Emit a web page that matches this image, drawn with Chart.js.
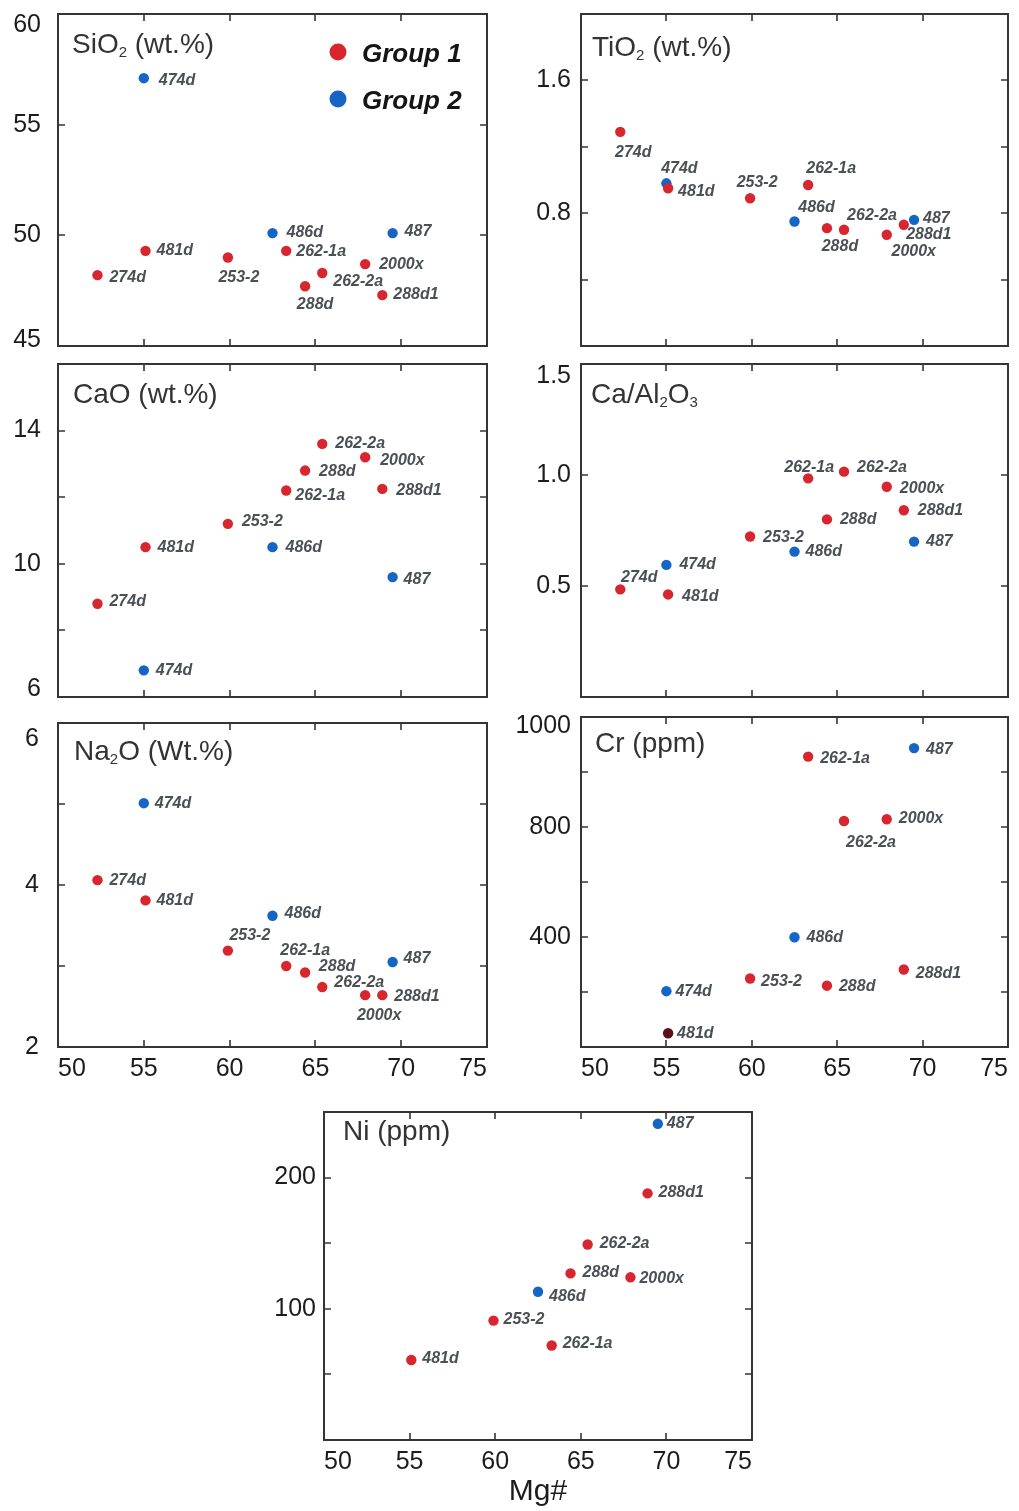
<!DOCTYPE html>
<html>
<head>
<meta charset="utf-8">
<script src="https://cdn.jsdelivr.net/npm/chart.js@4.4.1/dist/chart.umd.min.js"></script>
<style>
    html, body { margin: 0; padding: 0; background: #fff; overflow: hidden; }
    body { width: 1019px; height: 1511px; position: relative; }
    .panel { position: absolute; }
</style>
</head>
<body>
<script>
// samples and Mg# (same for every panel)
const samples = ['274d', '474d', '481d', '253-2', '486d', '262-1a', '288d', '262-2a', '2000x', '288d1', '487'];
const groups = [1, 2, 1, 1, 2, 1, 1, 1, 1, 1, 2];
const mgNumber = [52.3, 55.0, 55.1, 59.9, 62.5, 63.3, 64.4, 65.4, 67.9, 68.9, 69.5];

// oxide / element values (null = not plotted)
const sio2 = [48.2, 57.1, 49.3, 49.0, 50.1, 49.3, 47.7, 48.3, 48.7, 47.3, 50.1];
const tio2 = [1.29, 0.98, 0.95, 0.89, 0.75, 0.97, 0.71, 0.70, 0.67, 0.73, 0.76];
const cao = [8.8, 6.8, 10.5, 11.2, 10.5, 12.2, 12.8, 13.6, 13.2, 12.25, 9.6];
const caAl2o3 = [0.485, 0.595, 0.462, 0.723, 0.655, 0.985, 0.80, 1.015, 0.947, 0.841, 0.70];
const na2o = [4.06, 5.01, 3.81, 3.19, 3.62, 3.0, 2.92, 2.74, 2.64, 2.64, 3.05];
const cr = [null, 203, 50, 249, 399, 1056, 223, 822, 828, 282, 1087];
const ni = [null, null, 61, 91, 113, 72, 127, 149, 124, 188, 241];

// ticks
const mgTicks = [50, 55, 60, 65, 70, 75];
const mgTickLabels = ['50', '55', '60', '65', '70', '75'];
const sio2Ticks = [45, 50, 55, 60];
const sio2TickLabels = ['45', '50', '55', '60'];
const tio2Ticks = [0, 0.4, 0.8, 1.2, 1.6, 2.0];
const tio2TickLabels = ['', '', '0.8', '', '1.6', ''];
const caoTicks = [6, 8, 10, 12, 14, 16];
const caoTickLabels = ['6', '', '10', '', '14', ''];
const caAlTicks = [0, 0.5, 1.0, 1.5];
const caAlTickLabels = ['', '0.5', '1.0', '1.5'];
const na2oTicks = [2, 3, 4, 5, 6];
const na2oTickLabels = ['2', '', '4', '', '6'];
const crTicks = [0, 200, 400, 600, 800, 1000, 1200];
const crTickLabels = ['', '', '400', '', '800', '', '1000'];
const niTicks = [0, 50, 100, 150, 200, 250];
const niTickLabels = ['', '', '100', '', '200', ''];

// label placement next to each point: [align, dx, dy]
const sio2LabelPos = {'474d': ['l', 15, 2], '481d': ['l', 11, 0], '274d': ['l', 12, 2], '253-2': ['c', 11, 20], '486d': ['l', 14, -1], '262-1a': ['l', 10, 1], '288d': ['c', 10, 18], '262-2a': ['l', 11, 9], '2000x': ['l', 14, 0], '288d1': ['l', 11, 0], '487': ['l', 12, -2]};
const tio2LabelPos = {'274d': ['c', 13, 21], '474d': ['c', 13, -15], '481d': ['l', 10, 3], '253-2': ['c', 7, -16], '262-1a': ['c', 23, -16], '486d': ['c', 22, -14], '288d': ['c', 13, 18], '262-2a': ['c', 28, -14], '2000x': ['c', 27, 17], '288d1': ['c', 25, 10], '487': ['l', 9, -1]};
const caoLabelPos = {'262-2a': ['l', 13, 0], '2000x': ['l', 15, 3], '288d': ['l', 14, 1], '262-1a': ['l', 9, 5], '288d1': ['l', 14, 2], '253-2': ['l', 14, -2], '481d': ['l', 12, 0], '486d': ['l', 13, 0], '487': ['l', 11, 2], '274d': ['l', 12, -2], '474d': ['l', 12, 0]};
const caAlLabelPos = {'262-1a': ['c', 1, -11], '262-2a': ['l', 13, -4], '2000x': ['l', 13, 2], '288d1': ['l', 14, 0], '288d': ['l', 13, 0], '253-2': ['l', 13, 1], '486d': ['l', 11, 0], '487': ['l', 12, 0], '474d': ['l', 13, 0], '274d': ['c', 19, -12], '481d': ['l', 14, 2]};
const na2oLabelPos = {'474d': ['l', 11, 0], '274d': ['l', 12, 0], '481d': ['l', 11, 0], '486d': ['l', 12, -2], '253-2': ['c', 22, -15], '262-1a': ['c', 19, -15], '288d': ['c', 32, -6], '487': ['l', 11, -3], '262-2a': ['c', 37, -4], '2000x': ['c', 14, 20], '288d1': ['l', 12, 1]};
const crLabelPos = {'262-1a': ['l', 12, 2], '487': ['l', 12, 2], '262-2a': ['c', 27, 22], '2000x': ['l', 12, -1], '486d': ['l', 12, 0], '288d1': ['l', 12, 4], '253-2': ['l', 11, 3], '288d': ['l', 12, 1], '474d': ['l', 9, 0], '481d': ['l', 9, 0]};
const niLabelPos = {'487': ['l', 9, 0], '288d1': ['l', 11, -1], '262-2a': ['l', 12, -1], '288d': ['l', 12, -1], '2000x': ['l', 9, 1], '486d': ['l', 11, 5], '253-2': ['l', 10, -1], '262-1a': ['l', 11, -2], '481d': ['l', 11, -1]};

const FONT = "'Liberation Sans', Arial, Helvetica, sans-serif";
const TICK_SIZE = 25;
const RED = '#d7262d';
const BLUE = '#1565c4';
const DARK_RED = '#5a1119';

// box = [left, top, right, bottom] of the plot frame
// edge = how far the bottom / top y label sits inside the frame (px)
const panels = [
    { values: sio2, yTicks: sio2Ticks, yLabels: sio2TickLabels, box: [58, 14, 487, 346], title: [['SiO', 0], ['2', 1], [' (wt.%)', 0]], titleAt: [14, 39], pos: sio2LabelPos, tickPad: 17, edge: [6, 11], legend: true },
    { values: tio2, yTicks: tio2Ticks, yLabels: tio2TickLabels, box: [581, 14, 1008, 346], title: [['TiO', 0], ['2', 1], [' (wt.%)', 0]], titleAt: [11, 42], pos: tio2LabelPos, tickPad: 10, edge: [0, 0] },
    { values: cao, yTicks: caoTicks, yLabels: caoTickLabels, box: [58, 364, 487, 697], title: [['CaO (wt.%)', 0]], titleAt: [15, 39], pos: caoLabelPos, tickPad: 17, edge: [8, 0] },
    { values: caAl2o3, yTicks: caAlTicks, yLabels: caAlTickLabels, box: [581, 364, 1008, 697], title: [['Ca/Al', 0], ['2', 1], ['O', 0], ['3', 1]], titleAt: [10, 39], pos: caAlLabelPos, tickPad: 10, edge: [0, 12] },
    { values: na2o, yTicks: na2oTicks, yLabels: na2oTickLabels, box: [58, 717, 487, 1047], title: [['Na', 0], ['2', 1], ['O (Wt.%)', 0]], titleAt: [16, 37], pos: na2oLabelPos, tickPad: 19, edge: [0, 16], xLabels: true },
    { values: cr, yTicks: crTicks, yLabels: crTickLabels, box: [581, 717, 1008, 1047], title: [['Cr (ppm)', 0]], titleAt: [14, 35], pos: crLabelPos, tickPad: 10, edge: [0, 9], xLabels: true, dark: '481d' },
    { values: ni, yTicks: niTicks, yLabels: niTickLabels, box: [324, 1112, 752, 1440], title: [['Ni (ppm)', 0]], titleAt: [19, 28], pos: niLabelPos, tickPad: 8, edge: [0, 0], xLabels: true, axisTitle: 'Mg#' }
];

// frame with inward tick marks on all four sides
const frame = {
    id: 'frame',
    beforeDatasetsDraw(chart) {
        const { ctx, chartArea: a, scales: { x, y } } = chart;
        ctx.save();
        ctx.strokeStyle = '#353535';
        ctx.lineWidth = 2;
        ctx.strokeRect(a.left, a.top, a.right - a.left, a.bottom - a.top);
        ctx.lineWidth = 1.6;
        ctx.beginPath();
        x.ticks.forEach(t => {
            if (t.value <= x.min || t.value >= x.max) return;
            const px = Math.round(x.getPixelForValue(t.value));
            ctx.moveTo(px, a.top); ctx.lineTo(px, a.top + 7);
            ctx.moveTo(px, a.bottom); ctx.lineTo(px, a.bottom - 7);
        });
        y.ticks.forEach(t => {
            if (t.value <= y.min || t.value >= y.max) return;
            const py = Math.round(y.getPixelForValue(t.value));
            ctx.moveTo(a.left, py); ctx.lineTo(a.left + 7, py);
            ctx.moveTo(a.right, py); ctx.lineTo(a.right - 7, py);
        });
        ctx.stroke();
        ctx.restore();
    }
};

const sampleLabels = {
    id: 'sampleLabels',
    afterDatasetsDraw(chart, args, opts) {
        const { ctx } = chart;
        ctx.save();
        ctx.font = `italic bold 16px ${FONT}`;
        ctx.fillStyle = '#4b5055';
        ctx.textBaseline = 'middle';
        chart.data.datasets.forEach((ds, di) => {
            chart.getDatasetMeta(di).data.forEach((pt, i) => {
                const name = ds.data[i].sample;
                const [align, dx, dy] = opts.pos[name] || ['l', 11, 0];
                ctx.textAlign = align === 'c' ? 'center' : 'left';
                ctx.fillText(name, pt.x + dx, pt.y + dy);
            });
        });
        ctx.restore();
    }
};

const panelTitle = {
    id: 'panelTitle',
    afterDraw(chart, args, opts) {
        const { ctx, chartArea: a } = chart;
        let x = a.left + opts.at[0];
        const y = a.top + opts.at[1];
        ctx.save();
        ctx.fillStyle = '#333';
        ctx.textAlign = 'left';
        ctx.textBaseline = 'alphabetic';
        opts.text.forEach(([s, sub]) => {
            ctx.font = `${sub ? 15 : 28}px ${FONT}`;
            ctx.fillText(s, x, y + (sub ? 4 : 0));
            x += ctx.measureText(s).width;
        });
        ctx.restore();
    }
};

const groupLegend = {
    id: 'groupLegend',
    afterDraw(chart, args, opts) {
        if (!opts.show) return;
        const { ctx, chartArea: a } = chart;
        ctx.save();
        chart.data.datasets.forEach((ds, i) => {
            const cy = a.top + 38 + i * 47;
            ctx.fillStyle = ds.borderColor;
            ctx.beginPath();
            ctx.arc(a.left + 280, cy, 8.5, 0, Math.PI * 2);
            ctx.fill();
            ctx.fillStyle = '#151515';
            ctx.font = `italic bold 26px ${FONT}`;
            ctx.textAlign = 'left';
            ctx.textBaseline = 'alphabetic';
            ctx.fillText(ds.label, a.left + 304, cy + 10);
        });
        ctx.restore();
    }
};

function buildData(p, group) {
    const pts = [];
    samples.forEach((s, i) => {
        if (groups[i] !== group || p.values[i] === null) return;
        pts.push({ x: mgNumber[i], y: p.values[i], sample: s });
    });
    return pts;
}

// edge labels are nudged inside the frame with an empty second line
function yLabel(p, i, n) {
    const lab = p.yLabels[i];
    if (i === 0 && p.edge[0]) return [lab, ''];
    if (i === n - 1 && p.edge[1]) return ['', lab];
    return lab;
}

function yFont(p, i) {
    const n = p.yTicks.length;
    let shift = 0;
    if (i === 0) shift = p.edge[0];
    if (i === n - 1) shift = p.edge[1];
    return { family: FONT, size: TICK_SIZE, lineHeight: shift ? (2 * shift) + 'px' : 1.2 };
}

panels.forEach(p => {
    const [bl, bt, br, bb] = p.box;
    // generous padding so the axis label overflow never moves the plot frame
    const padL = 72, padT = 45, padR = 30;
    const padB = p.axisTitle ? 70 : (p.xLabels ? 50 : 45);

    const div = document.createElement('div');
    div.className = 'panel';
    div.style.left = (bl - padL) + 'px';
    div.style.top = (bt - padT) + 'px';
    div.style.width = (br - bl + padL + padR) + 'px';
    div.style.height = (bb - bt + padT + padB) + 'px';
    const canvas = document.createElement('canvas');
    div.appendChild(canvas);
    document.body.appendChild(div);

    const g1 = buildData(p, 1);
    const g2 = buildData(p, 2);

    new Chart(canvas, {
        type: 'scatter',
        data: {
            datasets: [
                {
                    label: 'Group 1',
                    data: g1,
                    borderColor: RED,
                    pointBackgroundColor: g1.map(d => d.sample === p.dark ? DARK_RED : RED),
                    pointBorderWidth: 0,
                    pointRadius: 5.2
                },
                {
                    label: 'Group 2',
                    data: g2,
                    borderColor: BLUE,
                    pointBackgroundColor: BLUE,
                    pointBorderWidth: 0,
                    pointRadius: 5.2
                }
            ]
        },
        options: {
            responsive: true,
            maintainAspectRatio: false,
            animation: false,
            events: [],
            layout: {
                padding: { left: 0, top: padT, right: padR, bottom: p.xLabels ? 0 : padB }
            },
            plugins: {
                legend: { display: false },
                tooltip: { enabled: false },
                sampleLabels: { pos: p.pos },
                panelTitle: { text: p.title, at: p.titleAt },
                groupLegend: { show: !!p.legend }
            },
            scales: {
                x: {
                    type: 'linear',
                    min: 50,
                    max: 75,
                    afterBuildTicks: s => { s.ticks = mgTicks.map(v => ({ value: v })); },
                    afterFit: s => { s.height = p.xLabels ? padB : 0; },
                    grid: { display: false, drawTicks: false },
                    border: { display: false },
                    ticks: {
                        display: !!p.xLabels,
                        autoSkip: false,
                        maxRotation: 0,
                        align: 'inner',
                        padding: 7,
                        color: '#1c1c1c',
                        font: { family: FONT, size: TICK_SIZE },
                        callback: (v, i) => mgTickLabels[i]
                    },
                    title: {
                        display: !!p.axisTitle,
                        text: p.axisTitle || '',
                        color: '#1c1c1c',
                        font: { family: FONT, size: 30 },
                        padding: { top: 0, bottom: 0 }
                    }
                },
                y: {
                    type: 'linear',
                    min: p.yTicks[0],
                    max: p.yTicks[p.yTicks.length - 1],
                    afterBuildTicks: s => { s.ticks = p.yTicks.map(v => ({ value: v })); },
                    afterFit: s => { s.width = padL; },
                    grid: { display: false, drawTicks: false },
                    border: { display: false },
                    ticks: {
                        autoSkip: false,
                        padding: p.tickPad,
                        color: '#1c1c1c',
                        font: ctx => yFont(p, ctx.index),
                        callback: (v, i, ticks) => yLabel(p, i, ticks.length)
                    }
                }
            }
        },
        plugins: [frame, sampleLabels, panelTitle, groupLegend]
    });
});
</script>
</body>
</html>
